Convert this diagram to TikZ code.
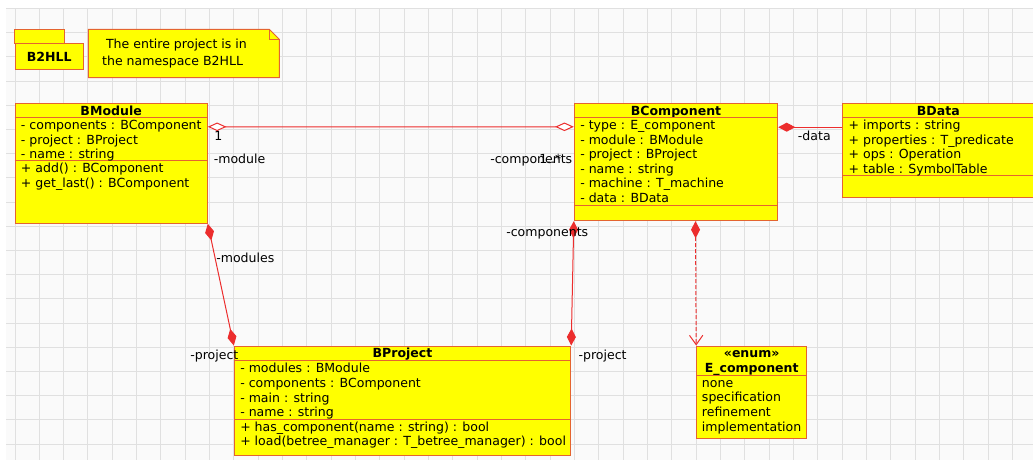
\documentclass[tikz,border=0pt]{standalone}
\usepackage{fontspec}
\setmainfont{DejaVu Sans}
\usetikzlibrary{arrows.meta,calc}
\definecolor{umlfill}{RGB}{255,255,0}
\definecolor{umlborder}{RGB}{228,100,48}
\definecolor{umlline}{RGB}{236,45,45}
\definecolor{gridcol}{RGB}{224,224,224}
\definecolor{bgcol}{RGB}{250,250,250}
\tikzset{
  CompD/.tip={Diamond[fill=umlline,color=umlline,length=12.75pt,width=6.75pt]},
  AggD/.tip={Diamond[open,fill=white,color=umlline,length=14pt,width=6.4pt]},
  OpenV/.tip={Straight Barb[color=umlline,length=7pt,width=10pt]},
}
\begin{document}
\begin{tikzpicture}[x=0.75pt,y=-0.75pt,
  every node/.style={font=\fontsize{9.4}{11}\selectfont, text=black},
  classbox/.style={draw=umlborder, fill=umlfill, line width=0.75pt, inner sep=0pt},
  sepline/.style={draw=umlborder, line width=0.75pt},
  attr/.style={anchor=base west, inner sep=0pt},
  ttl/.style={anchor=base, inner sep=0pt, font=\fontsize{9.4}{11}\selectfont\bfseries},
  lbl/.style={anchor=base west, inner sep=0pt},
  conn/.style={draw=umlline, line width=0.75pt},
  gridline/.style={draw=gridcol, line width=0.75pt}]
\useasboundingbox (0,0) rectangle (1033,460);
% background grid
\fill[bgcol] (6,8) rectangle (1033,460);
\foreach \i in {0,...,41} \draw[gridline] ({15+24.33*\i},8) -- ({15+24.33*\i},460);
\foreach \j in {0,...,18} \draw[gridline] (6,{8.5+24.2*\j}) -- (1033,{8.5+24.2*\j});

% package
\node[classbox, minimum width=37pt, minimum height=10.5pt] (pkgtab) at (39.65,36.3) {};
\node[classbox, minimum width=51.2pt, minimum height=20pt] (pkg) at (49.15,56.65) {};
\node[ttl] (pkgname) at (49.15,61.5) {B2HLL};

% note
\path[classbox] (88.3,29.3) -- (269.3,29.3) -- (279.3,39.3) -- (279.3,77.7) -- (88.3,77.7) -- cycle;
\draw[sepline] (269.3,29.3) -- (269.3,39.3) -- (279.3,39.3);
\node[anchor=base, inner sep=0pt] (note1) at (176.5,48.8) {The entire project is in};
\node[anchor=base, inner sep=0pt] (note2) at (172.6,65.5) {the namespace B2HLL};

% BModule
\node[classbox, minimum width=144.2pt, minimum height=90pt] (bmodule) at (111.15,163.3) {};
\node[ttl] (bmT) at (111.15,115.2) {BModule};
\draw[sepline] (bmodule.west |- 0,117.7) -- (bmodule.east |- 0,117.7);
\draw[sepline] (bmodule.west |- 0,161) -- (bmodule.east |- 0,161);
\node[attr] (bm1) at (20.7,129.6) {- components : BComponent};
\node[attr] (bm2) at (20.7,144.2) {- project : BProject};
\node[attr] (bm3) at (20.7,158.8) {- name : string};
\node[attr] (bm4) at (20.7,172.9) {+ add() : BComponent};
\node[attr] (bm5) at (20.7,187.5) {+ get\_last() : BComponent};

% BComponent
\node[classbox, minimum width=152.55pt, minimum height=88.05pt] (bcomp) at (676,162) {};
\node[ttl] (bcT) at (676,115.2) {BComponent};
\draw[sepline] (bcomp.west |- 0,117.7) -- (bcomp.east |- 0,117.7);
\draw[sepline] (bcomp.west |- 0,205) -- (bcomp.east |- 0,205);
\node[attr] (bc1) at (580,129.8) {- type : E\_component};
\node[attr] (bc2) at (580,144.2) {- module : BModule};
\node[attr] (bc3) at (580,158.8) {- project : BProject};
\node[attr] (bc4) at (580,173.4) {- name : string};
\node[attr] (bc5) at (580,188) {- machine : T\_machine};
\node[attr] (bc6) at (580,202.6) {- data : BData};

% BData
\node[classbox, minimum width=143.5pt, minimum height=70.8pt] (bdata) at (938.35,150.5) {};
\node[ttl] (bdT) at (938.3,115.2) {BData};
\draw[sepline] (bdata.west |- 0,117.7) -- (bdata.east |- 0,117.7);
\draw[sepline] (bdata.west |- 0,176) -- (bdata.east |- 0,176);
\node[attr] (bd1) at (848.4,129.8) {+ imports : string};
\node[attr] (bd2) at (848.4,144.2) {+ properties : T\_predicate};
\node[attr] (bd3) at (848.4,158.8) {+ ops : Operation};
\node[attr] (bd4) at (848.4,173.4) {+ table : SymbolTable};

% BProject
\node[classbox, minimum width=252.3pt, minimum height=81.75pt] (bproject) at (402.5,400.5) {};
\node[ttl] (bpT) at (402.5,357.8) {BProject};
\draw[sepline] (bproject.west |- 0,360.7) -- (bproject.east |- 0,360.7);
\draw[sepline] (bproject.west |- 0,419.3) -- (bproject.east |- 0,419.3);
\node[attr] (bp1) at (240,372.8) {- modules : BModule};
\node[attr] (bp2) at (240,387.4) {- components : BComponent};
\node[attr] (bp3) at (240,402) {- main : string};
\node[attr] (bp4) at (240,416.6) {- name : string};
\node[attr] (bp5) at (240,431.2) {+ has\_component(name : string) : bool};
\node[attr] (bp6) at (240,445.8) {+ load(betree\_manager : T\_betree\_manager) : bool};

% E_component
\node[classbox, minimum width=82.5pt, minimum height=69.2pt] (ecomp) at (751.7,392.15) {};
\node[ttl] (ecS) at (751.7,357.8) {«enum»};
\node[ttl] (ecT) at (751.7,372.3) {E\_component};
\draw[sepline] (ecomp.west |- 0,375) -- (ecomp.east |- 0,375);
\node[attr] (ec1) at (701.7,387.2) {none};
\node[attr] (ec2) at (701.7,401.8) {specification};
\node[attr] (ec3) at (701.7,416.4) {refinement};
\node[attr] (ec4) at (701.7,431) {implementation};

% connectors
\draw[conn, AggD-AggD] ($(bmodule.north east)+(0,24)$) -- ($(bcomp.north west)+(0,24)$);
\draw[conn, CompD-] ($(bcomp.north east)+(0,24.4)$) -- ($(bdata.north west)+(0,24.4)$);
\draw[conn, CompD-CompD] (bmodule.south east) -- (bproject.north west);
\draw[conn, CompD-CompD] (bcomp.south west) -- (bproject.north east);
\draw[conn, dash pattern=on 3pt off 1.5pt, CompD-OpenV] ($(bcomp.south west)+(121.7,0)$) -- (ecomp.north west);

% connector labels
\node[lbl] (l1) at (214,141) {1};
\node[lbl] (l2) at (213.5,164) {-module};
\node[lbl] (l3) at (490,164) {-components};
\node[lbl] (l4) at (539,164) {1..*};
\node[lbl] (l5) at (797.7,141) {-data};
\node[lbl] (l6) at (216,262.8) {-modules};
\node[lbl] (l7) at (190,359.5) {-project};
\node[lbl] (l8) at (506,236.5) {-components};
\node[lbl] (l9) at (578.3,359.5) {-project};
\end{tikzpicture}
\end{document}
